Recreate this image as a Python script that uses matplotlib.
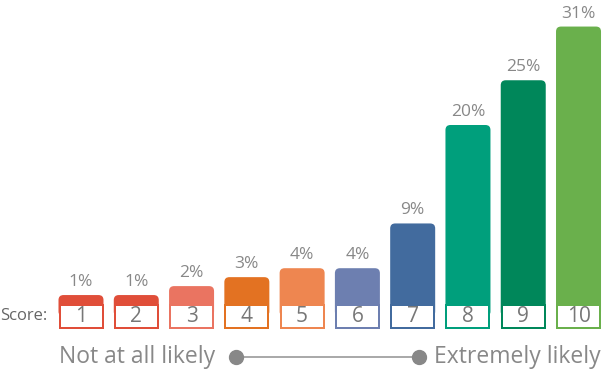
import matplotlib.pyplot as plt
from matplotlib.patches import FancyBboxPatch, Rectangle
from matplotlib.lines import Line2D

scores = ["1", "2", "3", "4", "5", "6", "7", "8", "9", "10"]
values = [1, 1, 2, 3, 4, 4, 9, 20, 25, 31]
colors = ["#e04e39", "#e04e39", "#ea7461", "#e37222", "#ee8650",
          "#6d7fb0", "#426b9e", "#009f7c", "#00875a", "#6ab04c"]

plt.rcParams['font.family'] = ['Open Sans', 'DejaVu Sans']

W, H = 602, 373
fig = plt.figure(figsize=(W / 100, H / 100), dpi=100)
ax = fig.add_axes([0, 0, 1, 1])
ax.axis('off')

# pixel geometry -> data scale
pitch = 55.28
x0 = 81.0
ppu = 8.95           # pixels per percent
base_px = 304.0      # pixel row (from top) of value 0
xmin = -x0 / pitch
ax.set_xlim(xmin, (W - x0) / pitch)
ax.set_ylim(-(H - base_px) / ppu, base_px / ppu)

xu = 1 / pitch
yu = 1 / ppu
bw = 45 * xu
box_h = 25 * yu
aspect = yu / xu

for i, (s, v, c) in enumerate(zip(scores, values, colors)):
    left = i - bw / 2
    # rounded top bar
    ax.add_patch(FancyBboxPatch((left, -box_h / 2), bw, v + box_h / 2,
                                boxstyle="round,pad=0,rounding_size=%f" % (5 * xu),
                                mutation_aspect=aspect, fc=c, ec='none'))
    # score box
    ax.add_patch(Rectangle((left, -box_h), bw, box_h, fc=c, ec='none'))
    ax.add_patch(Rectangle((left + 2 * xu, -box_h + 2 * yu), bw - 4 * xu, box_h - 4 * yu,
                           fc='white', ec='none'))
    ax.text(i, -box_h / 2, s, ha='center', va='center', fontsize=15, color='#777777')
    ax.text(i, v + 5 * yu, f"{v}%", ha='center', va='bottom', fontsize=12.5, color='#888888')

ax.text(xmin, -box_h / 2, "Score:", ha='left', va='center', fontsize=12, color='#666666')

# likelihood scale
yl = -(357 - base_px) * yu
ax.text(xmin + 59 * xu, yl, "Not at all likely", ha='left', va='center', fontsize=16.5, color='#888888')
ax.text(xmin + 601 * xu, yl, "Extremely likely", ha='right', va='center', fontsize=16.5, color='#888888')
xa = xmin + 236 * xu
xb = xmin + 419 * xu
ax.add_line(Line2D([xa, xb], [yl, yl], color='#999999', lw=1.2))
ax.plot([xa, xb], [yl, yl], 'o', color='#888888', ms=10)

fig.savefig("out.png", dpi=100)
